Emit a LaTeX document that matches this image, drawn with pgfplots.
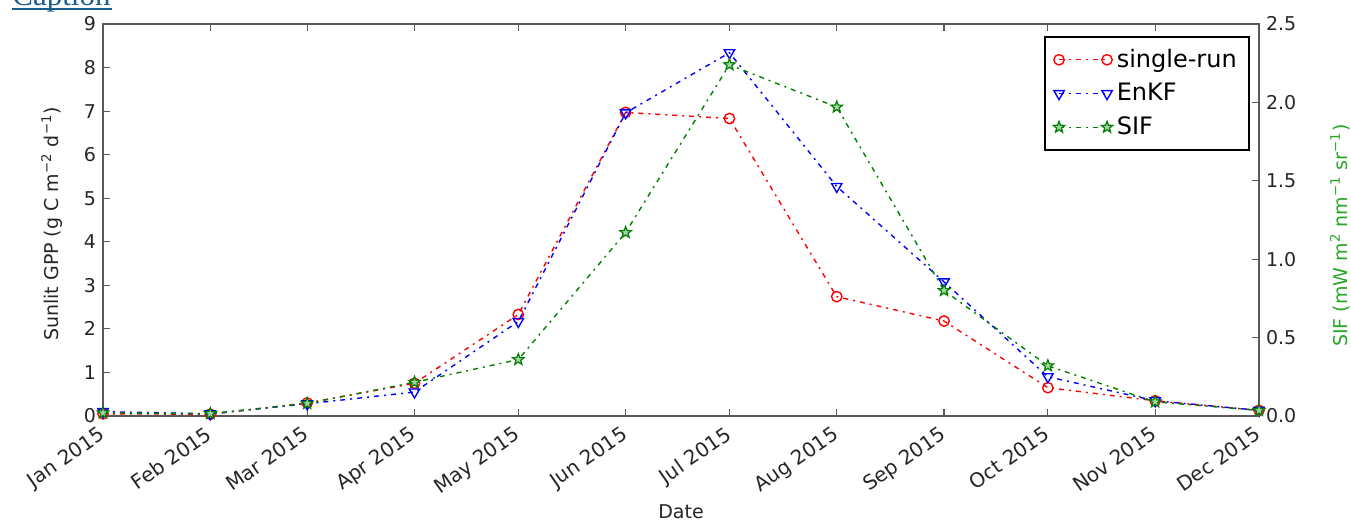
\documentclass[border=0pt]{standalone}
\usepackage{fontspec}
\setmainfont{DejaVu Sans}
\newfontfamily\capfont{Liberation Serif}
\usepackage{pgfplots}
\pgfplotsset{compat=1.18}
\definecolor{mplred}{rgb}{1,0,0}
\definecolor{mplblue}{rgb}{0,0,1}
\definecolor{mplgreen}{rgb}{0,0.5,0}
\definecolor{siflabel}{rgb}{0.15,0.65,0.15}
\definecolor{framegray}{gray}{0.35}
\definecolor{linkblue}{HTML}{1A5C8C}

\pgfdeclareplotmark{hstar}{%
  \pgfpathmoveto{\pgfpointpolar{90}{\pgfplotmarksize}}%
  \pgfpathlineto{\pgfpointpolar{126}{0.42\pgfplotmarksize}}%
  \pgfpathlineto{\pgfpointpolar{162}{\pgfplotmarksize}}%
  \pgfpathlineto{\pgfpointpolar{198}{0.42\pgfplotmarksize}}%
  \pgfpathlineto{\pgfpointpolar{234}{\pgfplotmarksize}}%
  \pgfpathlineto{\pgfpointpolar{270}{0.42\pgfplotmarksize}}%
  \pgfpathlineto{\pgfpointpolar{306}{\pgfplotmarksize}}%
  \pgfpathlineto{\pgfpointpolar{342}{0.42\pgfplotmarksize}}%
  \pgfpathlineto{\pgfpointpolar{18}{\pgfplotmarksize}}%
  \pgfpathlineto{\pgfpointpolar{54}{0.42\pgfplotmarksize}}%
  \pgfpathclose
  \pgfusepathqfillstroke
}

\pgfplotsset{
  dashdot/.style={line width=0.7pt, dash pattern=on 2.5pt off 2.5pt on 1pt off 2.5pt},
  runstyle/.style={mplred, dashdot, mark=o, mark size=2.6pt, mark options={solid, line width=0.7pt}},
  enkfstyle/.style={mplblue, dashdot, mark=triangle, mark size=3pt, mark options={solid, rotate=180, line width=0.7pt}},
  sifstyle/.style={mplgreen, dashdot, mark=hstar, mark size=3pt, mark options={solid, fill=mplgreen!35, line width=0.6pt}},
  common/.style={
    scale only axis, width=578pt, height=196pt,
    xmin=0, xmax=334,
    tick align=inside,
    major tick length=3.5pt,
    every tick/.style={framegray, line width=0.6pt},
    axis line style={framegray, line width=1.2pt},
    tick label style={font=\fontsize{9.5}{11}\selectfont, text=black!85},
    /pgf/number format/assume math mode=true,
    label style={font=\fontsize{9.5}{11}\selectfont, text=black!85},
  },
}

\pgfplotstableread{
x run enkf
0 0.05 0.10
31 0.04 0.05
59 0.30 0.28
90 0.75 0.55
120 2.33 2.17
151 6.97 6.96
181 6.83 8.34
212 2.74 5.27
243 2.18 3.08
273 0.65 0.90
304 0.35 0.35
334 0.13 0.13
}\gpp

\pgfplotstableread{
x sif
0 0.020
31 0.015
59 0.080
90 0.215
120 0.360
151 1.170
181 2.240
212 1.970
243 0.800
273 0.320
304 0.090
334 0.035
}\sif

\begin{document}
\begin{tikzpicture}
\begin{axis}[
  common,
  name=ax,
  ymin=0, ymax=9,
  xtick={0,31,59,90,120,151,181,212,243,273,304,334},
  xticklabels={Jan 2015,Feb 2015,Mar 2015,Apr 2015,May 2015,Jun 2015,Jul 2015,Aug 2015,Sep 2015,Oct 2015,Nov 2015,Dec 2015},
  xtick pos=both,
  ytick={0,1,2,3,4,5,6,7,8,9},
  ytick pos=left,
  xticklabel style={xshift=-2.5pt, yshift=-3pt, rotate=35, anchor=north east, inner sep=1pt, font=\fontsize{10}{11}\selectfont},
  xlabel={Date},
  xlabel style={at={(axis description cs:0.5,0)}, anchor=center, yshift=-48pt},
  ylabel={Sunlit GPP (g C m\textsuperscript{−2} d\textsuperscript{−1})},
  ylabel style={at={(axis description cs:0,0.49)}, anchor=center, rotate=0, yshift=25.5pt},
  legend image code/.code={\draw plot coordinates {(0pt,0pt) (24pt,0pt)};},
  legend cell align=left,
  legend style={at={(0.992,0.969)}, anchor=north east, draw=black, line width=1pt,
    font=\fontsize{12}{14}\selectfont, row sep=2.5pt, inner xsep=4pt, inner ysep=4pt, fill=white},
]
\addplot[runstyle] table[x=x, y=run] {\gpp};
\addlegendentry{single-run}
\addplot[enkfstyle] table[x=x, y=enkf] {\gpp};
\addlegendentry{EnKF}
\addlegendimage{sifstyle}
\addlegendentry{SIF}
\end{axis}
\begin{axis}[
  common,
  ymin=0, ymax=2.5,
  axis x line=none,
  axis y line*=right,
  ytick={0,0.5,1,1.5,2,2.5},
  yticklabel style={/pgf/number format/.cd, fixed, fixed zerofill, precision=1},
  ylabel={SIF (mW m\textsuperscript{2} nm\textsuperscript{−1} sr\textsuperscript{−1})},
  ylabel style={at={(axis description cs:1,0.46)}, anchor=center, yshift=-40.5pt, text=siflabel},
]
\addplot[sifstyle] table[x=x, y=sif] {\sif};
\end{axis}
\node[anchor=base west, text=linkblue, font=\capfont\fontsize{15.5}{16}\selectfont, inner sep=0pt]
  at ([xshift=-45.5pt, yshift=9pt]ax.north west) {Caption};
\draw[linkblue, line width=0.7pt] ([xshift=-45.5pt, yshift=7.5pt]ax.north west) -- ([xshift=4.5pt, yshift=7.5pt]ax.north west);
\pgfresetboundingbox
\path[use as bounding box] ([xshift=-51.5pt,yshift=-53.5pt]ax.south west) rectangle ([xshift=46pt,yshift=12pt]ax.north east);
\end{tikzpicture}
\end{document}
